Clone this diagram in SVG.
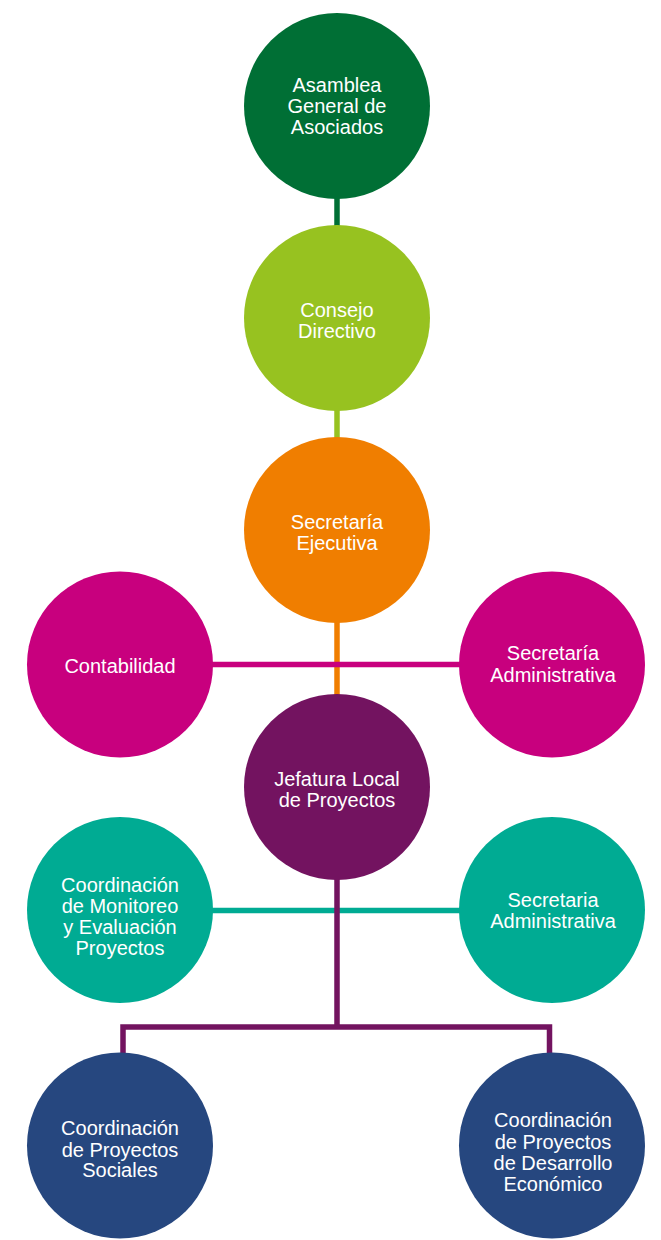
<svg xmlns="http://www.w3.org/2000/svg" width="661" height="1240" viewBox="0 0 661 1240">
<style>
  .lbl { font-family: "Liberation Sans", Arial, sans-serif; font-size: 20px; fill: #ffffff; text-anchor: middle; }
  .ln { fill: none; stroke-width: 5.5; stroke-linejoin: miter; }
</style>
<rect width="661" height="1240" fill="#ffffff"/>
<g id="connectors">
  <line class="ln" x1="337" y1="195" x2="337" y2="230" stroke="#006F35"/>
  <line class="ln" x1="337" y1="405" x2="337" y2="442" stroke="#97C220"/>
  <line class="ln" x1="337" y1="615" x2="337" y2="700" stroke="#F07E00"/>
  <line class="ln" x1="205" y1="664.5" x2="468" y2="664.5" stroke="#C8007E"/>
  <line class="ln" x1="205" y1="910.5" x2="468" y2="910.5" stroke="#00AB93"/>
  <path class="ln" d="M337,870 V1027 M123,1058 V1027 H549.5 V1058" stroke="#731360"/>
</g>
<g id="asamblea">
  <circle cx="337" cy="106" r="93" fill="#006F35"/>
  <text class="lbl"><tspan x="337" y="92">Asamblea</tspan><tspan x="337" y="113">General de</tspan><tspan x="337" y="134">Asociados</tspan></text>
</g>
<g id="consejo">
  <circle cx="337" cy="318" r="93" fill="#97C220"/>
  <text class="lbl"><tspan x="337" y="317">Consejo</tspan><tspan x="337" y="338">Directivo</tspan></text>
</g>
<g id="secretaria-ejecutiva">
  <circle cx="337" cy="530" r="93" fill="#F07E00"/>
  <text class="lbl"><tspan x="337" y="529">Secretaría</tspan><tspan x="337" y="550">Ejecutiva</tspan></text>
</g>
<g id="contabilidad">
  <circle cx="120" cy="664.5" r="93" fill="#C8007E"/>
  <text class="lbl"><tspan x="120" y="673">Contabilidad</tspan></text>
</g>
<g id="secretaria-administrativa-1">
  <circle cx="552" cy="664.5" r="93" fill="#C8007E"/>
  <text class="lbl"><tspan x="553" y="660">Secretaría</tspan><tspan x="553" y="682">Administrativa</tspan></text>
</g>
<g id="jefatura">
  <circle cx="337" cy="787" r="93" fill="#731360"/>
  <text class="lbl"><tspan x="337" y="786">Jefatura Local</tspan><tspan x="337" y="807">de Proyectos</tspan></text>
</g>
<g id="coord-monitoreo">
  <circle cx="120" cy="910" r="93" fill="#00AB93"/>
  <text class="lbl"><tspan x="120" y="892">Coordinación</tspan><tspan x="120" y="913">de Monitoreo</tspan><tspan x="120" y="934">y Evaluación</tspan><tspan x="120" y="955">Proyectos</tspan></text>
</g>
<g id="secretaria-administrativa-2">
  <circle cx="552" cy="910" r="93" fill="#00AB93"/>
  <text class="lbl"><tspan x="553" y="907">Secretaria</tspan><tspan x="553" y="928">Administrativa</tspan></text>
</g>
<g id="coord-sociales">
  <circle cx="120" cy="1145.5" r="93" fill="#26477F"/>
  <text class="lbl"><tspan x="120" y="1135">Coordinación</tspan><tspan x="120" y="1157">de Proyectos</tspan><tspan x="120" y="1177">Sociales</tspan></text>
</g>
<g id="coord-desarrollo">
  <circle cx="552" cy="1145.5" r="93" fill="#26477F"/>
  <text class="lbl"><tspan x="553" y="1127">Coordinación</tspan><tspan x="553" y="1149">de Proyectos</tspan><tspan x="553" y="1170">de Desarrollo</tspan><tspan x="553" y="1191">Económico</tspan></text>
</g>
</svg>
